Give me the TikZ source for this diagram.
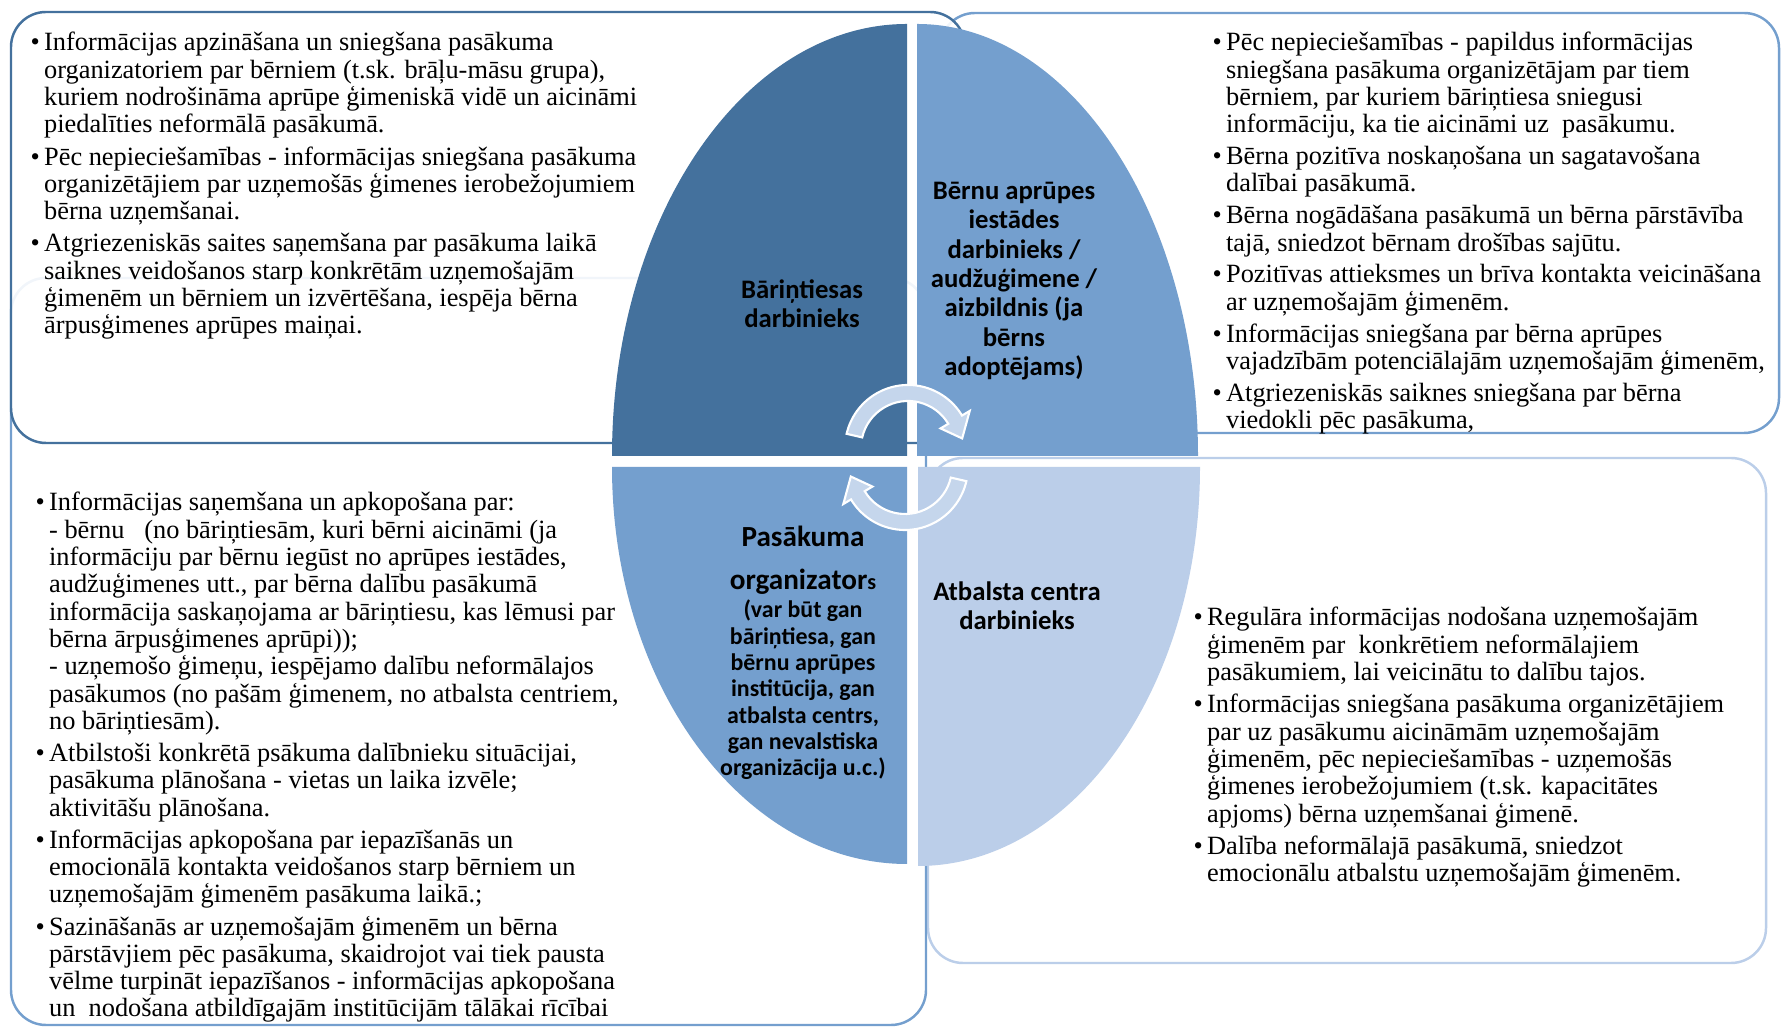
\documentclass[tikz,border=0pt]{standalone}
\usepackage{fontspec}
\setmainfont{Liberation Serif}
\newfontfamily\lblfont{Carlito}
\usetikzlibrary{positioning}

\definecolor{quaddark}{RGB}{68,113,157}
\definecolor{quadmid}{RGB}{116,159,206}
\definecolor{quadlight}{RGB}{187,206,233}
\definecolor{arrowfill}{RGB}{197,214,236}

\tikzset{
	infobox/.style={line width=0.7pt, rounded corners=0.35cm, fill=white, fill opacity=0.9},
	infotext/.style={anchor=base west, inner sep=0pt, font=\fontsize{7.5}{7.76}\selectfont},
	quadlabel/.style={align=center, inner sep=0pt, font=\lblfont\bfseries\fontsize{7.6}{8.35}\selectfont},
	cyclearrow/.style={fill=arrowfill, draw=white, line width=0.6pt}
}

\begin{document}
\begin{tikzpicture}
	\useasboundingbox (0,0) rectangle (17.81,10.28);

	\draw[infobox, draw=quadlight] (9.28,0.65) rectangle (17.66,5.70);
	\draw[infobox, draw=quadmid] (0.11,0.03) rectangle (9.26,7.50);
	\draw[infobox, draw=quadmid] (9.40,5.95) rectangle (17.79,10.15);
	\draw[infobox, draw=quaddark] (0.11,5.85) rectangle (9.65,10.16);

	\foreach \cx/\cy/\sa/\rx/\ry/\col in {9.07/5.72/90/2.95/4.32/quaddark, 9.17/5.72/0/2.81/4.32/quadmid, 9.07/5.61/180/2.95/3.97/quadmid, 9.18/5.61/270/2.82/3.99/quadlight}
		\fill[\col] (\cx,\cy) -- ([shift={(\sa:\rx cm and \ry cm)}]\cx,\cy) arc[start angle=\sa, delta angle=90, x radius=\rx, y radius=\ry] -- cycle;

	\coordinate (toparc) at (9.08,5.80);
	\coordinate (botarc) at (9.05,5.61);
	\foreach \c/\r in {toparc/0, botarc/180}
		\draw[cyclearrow] ([shift={(167+\r:0.63)}]\c) arc[start angle=167+\r, end angle=31+\r, radius=0.63] -- ([shift={(31+\r:0.72)}]\c) -- ([shift={(10+\r:0.55)}]\c) -- ([shift={(31+\r:0.38)}]\c) -- ([shift={(31+\r:0.47)}]\c) arc[start angle=31+\r, end angle=167+\r, radius=0.47] -- cycle;

	\node[infotext] (tltext) at (0.30,9.77) {\begin{tabular}[t]{@{}l@{\hspace{1.2pt}}l@{}}
		\textbullet & Informācijas apzināšana un sniegšana pasākuma\\
		& organizatoriem par bērniem (t.sk. brāļu-māsu grupa),\\
		& kuriem nodrošināma aprūpe ģimeniskā vidē un aicināmi\\
		& piedalīties neformālā pasākumā.\\[1.4pt]
		\textbullet & Pēc nepieciešamības - informācijas sniegšana pasākuma\\
		& organizētājiem par uzņemošās ģimenes ierobežojumiem\\
		& bērna uzņemšanai.\\[1.4pt]
		\textbullet & Atgriezeniskās saites saņemšana par pasākuma laikā\\
		& saiknes veidošanos starp konkrētām uzņemošajām\\
		& ģimenēm un bērniem un izvērtēšana, iespēja bērna\\
		& ārpusģimenes aprūpes maiņai.
	\end{tabular}};

	\node[infotext] (trtext) at (12.12,9.77) {\begin{tabular}[t]{@{}l@{\hspace{1.2pt}}l@{}}
		\textbullet & Pēc nepieciešamības - papildus informācijas\\
		& sniegšana pasākuma organizētājam par tiem\\
		& bērniem, par kuriem bāriņtiesa sniegusi\\
		& informāciju, ka tie aicināmi uz\ \ pasākumu.\\[1.3pt]
		\textbullet & Bērna pozitīva noskaņošana un sagatavošana\\
		& dalībai pasākumā.\\[1.3pt]
		\textbullet & Bērna nogādāšana pasākumā un bērna pārstāvība\\
		& tajā, sniedzot bērnam drošības sajūtu.\\[1.3pt]
		\textbullet & Pozitīvas attieksmes un brīva kontakta veicināšana\\
		& ar uzņemošajām ģimenēm.\\[1.3pt]
		\textbullet & Informācijas sniegšana par bērna aprūpes\\
		& vajadzībām potenciālajām uzņemošajām ģimenēm,\\[1.3pt]
		\textbullet & Atgriezeniskās saiknes sniegšana par bērna\\
		& viedokli pēc pasākuma,
	\end{tabular}};

	\node[infotext] (bltext) at (0.35,5.17) {\begin{tabular}[t]{@{}l@{\hspace{1.2pt}}l@{}}
		\textbullet & Informācijas saņemšana un apkopošana par:\\
		& - bērnu\ \ \ (no bāriņtiesām, kuri bērni aicināmi (ja\\
		& informāciju par bērnu iegūst no aprūpes iestādes,\\
		& audžuģimenes utt., par bērna dalību pasākumā\\
		& informācija saskaņojama ar bāriņtiesu, kas lēmusi par\\
		& bērna ārpusģimenes aprūpi));\\
		& - uzņemošo ģimeņu, iespējamo dalību neformālajos\\
		& pasākumos (no pašām ģimenem, no atbalsta centriem,\\
		& no bāriņtiesām).\\[1.4pt]
		\textbullet & Atbilstoši konkrētā psākuma dalībnieku situācijai,\\
		& pasākuma plānošana - vietas un laika izvēle;\\
		& aktivitāšu plānošana.\\[1.4pt]
		\textbullet & Informācijas apkopošana par iepazīšanās un\\
		& emocionālā kontakta veidošanos starp bērniem un\\
		& uzņemošajām ģimenēm pasākuma laikā.;\\[1.4pt]
		\textbullet & Sazināšanās ar uzņemošajām ģimenēm un bērna\\
		& pārstāvjiem pēc pasākuma, skaidrojot vai tiek pausta\\
		& vēlme turpināt iepazīšanos - informācijas apkopošana\\
		& un\ \ nodošana atbildīgajām institūcijām tālākai rīcībai
	\end{tabular}};

	\node[infotext] (brtext) at (11.93,4.02) {\begin{tabular}[t]{@{}l@{\hspace{1.2pt}}l@{}}
		\textbullet & Regulāra informācijas nodošana uzņemošajām\\
		& ģimenēm par\ \ konkrētiem neformālajiem\\
		& pasākumiem, lai veicinātu to dalību tajos.\\[1.4pt]
		\textbullet & Informācijas sniegšana pasākuma organizētājiem\\
		& par uz pasākumu aicināmām uzņemošajām\\
		& ģimenēm, pēc nepieciešamības - uzņemošās\\
		& ģimenes ierobežojumiem (t.sk. kapacitātes\\
		& apjoms) bērna uzņemšanai ģimenē.\\[1.4pt]
		\textbullet & Dalība neformālajā pasākumā, sniedzot\\
		& emocionālu atbalstu uzņemošajām ģimenēm.
	\end{tabular}};

	\node[quadlabel] (courtlbl) at (8.02,7.24) {Bāriņtiesas\\darbinieks};
	\node[quadlabel] (carelbl) at (10.14,7.47) {Bērnu aprūpes\\iestādes\\darbinieks /\\audžuģimene /\\aizbildnis (ja\\bērns\\adoptējams)};
	\node[quadlabel, font=\lblfont\bfseries\fontsize{8.3}{9.1}\selectfont] (orgname) at (8.03,4.92) {Pasākuma};
	\node[quadlabel, font=\lblfont\bfseries\fontsize{8.3}{9.1}\selectfont] (orgword) at (8.03,4.46) {organizator{\fontsize{6.3}{7}\selectfont s}};
	\node[quadlabel, font=\lblfont\bfseries\fontsize{6.8}{7.5}\selectfont] (orgnote) at (8.03,3.38) {(var būt gan\\bāriņtiesa, gan\\bērnu aprūpes\\institūcija, gan\\atbalsta centrs,\\gan nevalstiska\\organizācija u.c.)};
	\node[quadlabel] (supportlbl) at (10.17,4.22) {Atbalsta centra\\darbinieks};
\end{tikzpicture}
\end{document}
